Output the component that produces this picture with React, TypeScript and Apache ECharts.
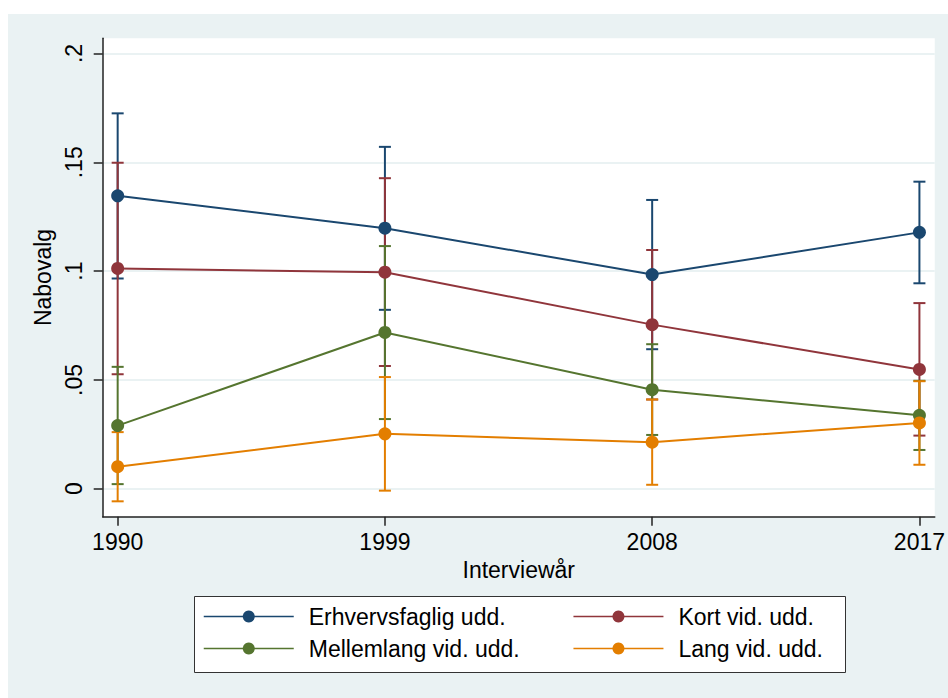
import React, { useEffect, useRef } from "react";
import * as echarts from "echarts";

const years = [1990, 1999, 2008, 2017];
const yTickValues = [0, 0.05, 0.1, 0.15, 0.2];
const yTickLabels = ["0", ".05", ".1", ".15", ".2"];
const xTickValues = [1990, 1999, 2008, 2017];
const xTickLabels = ["1990", "1999", "2008", "2017"];

const seriesNames = [
  "Erhvervsfaglig udd.",
  "Kort vid. udd.",
  "Mellemlang vid. udd.",
  "Lang vid. udd.",
];

const erhvervMean = [0.1346, 0.1197, 0.0984, 0.1178];
const erhvervLow = [0.0966, 0.0822, 0.0641, 0.0944];
const erhvervHigh = [0.1725, 0.1571, 0.1327, 0.1411];

const kortMean = [0.1012, 0.0995, 0.0754, 0.0548];
const kortLow = [0.0526, 0.0564, 0.041, 0.0244];
const kortHigh = [0.1498, 0.1427, 0.1097, 0.0853];

const mellemMean = [0.029, 0.0718, 0.0455, 0.0337];
const mellemLow = [0.0021, 0.032, 0.0247, 0.0178];
const mellemHigh = [0.056, 0.1115, 0.0664, 0.0496];

const langMean = [0.0101, 0.0252, 0.0214, 0.0302];
const langLow = [-0.0058, -0.0009, 0.0018, 0.011];
const langHigh = [0.026, 0.0513, 0.041, 0.0494];

const colors = ["#1A476F", "#90353B", "#55752F", "#E37E00"];

const FONT = "'Liberation Sans', Arial, Helvetica, sans-serif";

export default function App() {
  const ref = useRef<HTMLDivElement>(null);

  useEffect(() => {
    if (!ref.current) return;
    const chart = echarts.init(ref.current, undefined, { renderer: "svg" });

    const groups = [
      { name: seriesNames[0], mean: erhvervMean, lo: erhvervLow, hi: erhvervHigh },
      { name: seriesNames[1], mean: kortMean, lo: kortLow, hi: kortHigh },
      { name: seriesNames[2], mean: mellemMean, lo: mellemLow, hi: mellemHigh },
      { name: seriesNames[3], mean: langMean, lo: langLow, hi: langHigh },
    ];

    const errorSeries = groups.map((g, gi) => ({
      type: "custom",
      name: "ci-" + gi,
      z: 2 + gi * 0.1,
      data: years.map((y, i) => [y, g.lo[i], g.hi[i]]),
      encode: { x: 0, y: [1, 2] },
      renderItem: (params: any, api: any) => {
        const x = api.value(0);
        const pLo = api.coord([x, api.value(1)]);
        const pHi = api.coord([x, api.value(2)]);
        const w = 6;
        const style = { stroke: colors[gi], lineWidth: 2, fill: "none" };
        return {
          type: "group",
          children: [
            { type: "line", shape: { x1: pLo[0], y1: pLo[1], x2: pHi[0], y2: pHi[1] }, style },
            { type: "line", shape: { x1: pHi[0] - w, y1: pHi[1], x2: pHi[0] + w, y2: pHi[1] }, style },
            { type: "line", shape: { x1: pLo[0] - w, y1: pLo[1], x2: pLo[0] + w, y2: pLo[1] }, style },
          ],
        };
      },
    }));

    const lineSeries = groups.map((g, gi) => ({
      type: "line",
      name: g.name,
      z: 5,
      data: years.map((y, i) => [y, g.mean[i]]),
      symbol: "circle",
      symbolSize: 13,
      showSymbol: true,
      lineStyle: { color: colors[gi], width: 2 },
      itemStyle: { color: colors[gi] },
    }));

    const legendCommon = {
      orient: "vertical",
      top: 600,
      itemWidth: 90,
      itemHeight: 15,
      itemGap: 9,
      selectedMode: false,
      lineStyle: { width: 1.5 },
      textStyle: { fontFamily: FONT, fontSize: 23, color: "#000", padding: [0, 0, 0, 10] },
    };

    chart.setOption({
      animation: false,
      backgroundColor: "#ffffff",
      textStyle: { fontFamily: FONT },
      graphic: [
        {
          type: "rect",
          z: -10,
          silent: true,
          shape: { x: 8, y: 14, width: 940, height: 684 },
          style: { fill: "#EAF2F3" },
        },
        {
          type: "rect",
          z: 1,
          silent: true,
          shape: { x: 194.5, y: 596.5, width: 651, height: 76 },
          style: { fill: "#ffffff", stroke: "#333333", lineWidth: 1 },
        },
      ],
      grid: {
        left: 102.7,
        top: 38.3,
        right: 11.3,
        bottom: 181.3,
        show: true,
        backgroundColor: "#ffffff",
        borderWidth: 0,
      },
      xAxis: {
        type: "value",
        min: 1989.496,
        max: 2017.517,
        name: "Interviewår",
        nameLocation: "middle",
        nameGap: 40,
        nameTextStyle: { fontFamily: FONT, fontSize: 23, color: "#000" },
        axisLine: { show: true, onZero: false, lineStyle: { color: "#222", width: 1.5 } },
        axisTick: { show: true, length: 9, customValues: xTickValues, lineStyle: { color: "#222", width: 1.5 } },
        axisLabel: {
          customValues: xTickValues,
          margin: 14,
          fontFamily: FONT,
          fontSize: 23,
          color: "#000",
          formatter: (v: number) => xTickLabels[xTickValues.indexOf(v)] ?? String(v),
        },
        splitLine: { show: false },
      },
      yAxis: {
        type: "value",
        min: -0.01287,
        max: 0.20699,
        name: "Nabovalg",
        nameLocation: "middle",
        nameGap: 34,
        nameTextStyle: { fontFamily: FONT, fontSize: 23, color: "#000" },
        axisLine: { show: true, onZero: false, lineStyle: { color: "#222", width: 1.5 } },
        axisTick: { show: true, length: 9, customValues: yTickValues, lineStyle: { color: "#222", width: 1.5 } },
        axisLabel: {
          customValues: yTickValues,
          rotate: 90,
          margin: 17,
          fontFamily: FONT,
          fontSize: 23,
          color: "#000",
          formatter: (v: number) => {
            const idx = yTickValues.findIndex((t) => Math.abs(t - v) < 1e-9);
            return idx >= 0 ? yTickLabels[idx] : String(v);
          },
        },
        splitLine: { show: true, lineStyle: { color: "#EAF2F3", width: 2 } },
      },
      legend: [
        { ...legendCommon, left: 198, data: [seriesNames[0], seriesNames[2]] },
        { ...legendCommon, left: 567.7, data: [seriesNames[1], seriesNames[3]] },
      ],
      series: [...errorSeries, ...lineSeries],
    } as any);

    return () => {
      chart.dispose();
    };
  }, []);

  return (
    <div
      ref={ref}
      style={{ position: "fixed", left: 0, top: 0, width: 948, height: 698 }}
    />
  );
}
